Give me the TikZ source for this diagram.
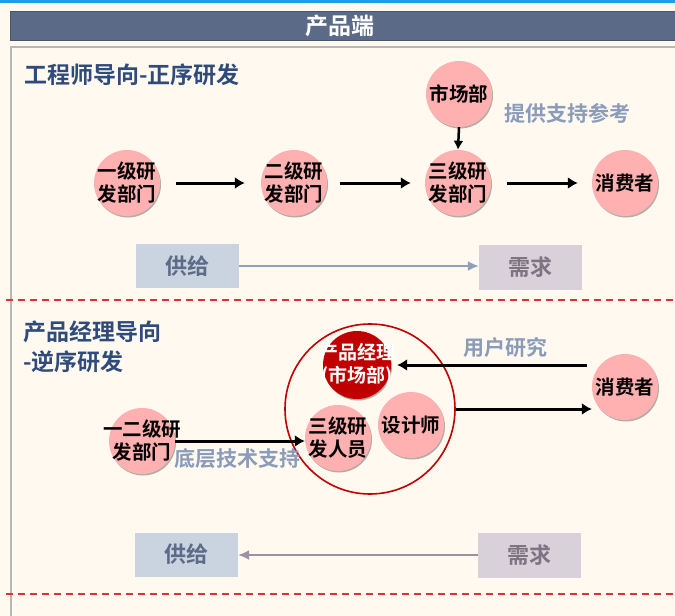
\documentclass[tikz,border=0pt]{standalone}
\usepackage{fontspec}
\setmainfont{Noto Sans CJK SC}[BoldFont={Noto Sans CJK SC Bold}]
\usetikzlibrary{arrows.meta,shadows}
\definecolor{bgc}{HTML}{FFF9EF}
\definecolor{hdr}{HTML}{5B6A87}
\definecolor{pinkc}{HTML}{FFB0B0}
\definecolor{darkred}{HTML}{C00000}
\definecolor{titlec}{HTML}{2F4B7C}
\definecolor{greyb}{HTML}{8A9CBA}
\definecolor{supf}{HTML}{CAD3E0}
\definecolor{supt}{HTML}{5C6B88}
\definecolor{demf}{HTML}{D8D1D9}
\definecolor{demt}{HTML}{7D7382}
\definecolor{supa}{HTML}{8FA1BD}
\definecolor{dema}{HTML}{9C91A3}
\definecolor{dashred}{HTML}{E03030}
\definecolor{topblue}{HTML}{1AA0E0}
\tikzset{
  pc/.style={circle, fill=pinkc, minimum size=66pt, inner sep=0pt,
    drop shadow={shadow xshift=1pt, shadow yshift=-1.5pt, opacity=0.3, fill=black}},
  lbl/.style={align=center, font=\fontsize{19.5}{23}\selectfont\bfseries, text=black, inner sep=0pt},
  wlbl/.style={align=center, font=\fontsize{19}{23}\selectfont\bfseries, text=white, inner sep=0pt},
  arr/.style={line width=3pt, -{Latex[length=10pt,width=12pt]}},
  ttl/.style={anchor=west, font=\fontsize{23}{27}\selectfont\bfseries, text=titlec, inner sep=0pt},
  note/.style={font=\fontsize{21}{25}\selectfont\bfseries, text=greyb, inner sep=0pt},
  supbox/.style={fill=supf, minimum width=103pt, minimum height=44pt, inner sep=0pt,
    font=\fontsize{22}{26}\selectfont\bfseries, text=supt},
  dembox/.style={fill=demf, minimum width=103pt, minimum height=45pt, inner sep=0pt,
    font=\fontsize{22}{26}\selectfont\bfseries, text=demt},
  reddash/.style={draw=dashred, line width=1.8pt, dash pattern=on 7pt off 5pt}
}
\begin{document}
\begin{tikzpicture}[x=1pt,y=-1pt]
\useasboundingbox (0,0) rectangle (675,616);
\fill[bgc] (0,0) rectangle (675,616);
% top blue line
\fill[topblue] (0,0) rectangle (675,3);
% header
\node[fill=hdr, draw=hdr!80!black, line width=0.8pt, minimum width=666pt, minimum height=29pt, inner sep=0pt,
  anchor=north west, font=\fontsize{23}{27}\selectfont\bfseries, text=white] (hd) at (10,10.5) {\hspace*{-6pt}产品端};
% frame
\draw[black!28, line width=1.6pt] (11,616) -- (11,47) -- (675,47);

% ---------- section 1 ----------
\node[ttl] (t1) at (24,75) {工程师导向-正序研发};
\node[pc, label={[lbl]center:市场部}] (sc) at (459,94) {};
\node[note] (n1) at (567,113) {提供支持参考};
\node[pc, label={[lbl]center:一级研\\发部门}] (a1) at (127,183) {};
\node[pc, label={[lbl]center:二级研\\发部门}] (a2) at (294,183) {};
\node[pc, label={[lbl]center:三级研\\发部门}] (a3) at (458,183) {};
\node[pc, label={[lbl]center:消费者}] (a4) at (625,183) {};
\draw[arr] ([xshift=16pt]a1.east) -- ([xshift=-16pt]a2.west);
\draw[arr] ([xshift=13pt]a2.east) -- ([xshift=-14pt]a3.west);
\draw[arr] ([xshift=16pt]a3.east) -- ([xshift=-14pt]a4.west);
\draw[line width=2.5pt, -{Latex[length=9pt,width=10pt]}] (sc.south) -- (a3.north);
\node[supbox] (g1) at (187.5,266) {供给};
\node[dembox] (d1) at (530.5,267.5) {需求};
\draw[supa, line width=1.8pt, -{Latex[length=11pt,width=10pt]}] (g1.east) -- (d1.west |- g1.east);

\draw[reddash] (6,300) -- (675,300);

% ---------- section 2 ----------
\node[ttl] (t2) at (23,332) {产品经理导向};
\node[ttl] (t3) at (23,362) {-逆序研发};
\node[draw=darkred, line width=1.6pt, circle, minimum size=170pt, inner sep=0pt] (big) at (370,409) {};
\node[circle, fill=darkred, minimum width=68pt, inner sep=0pt,
  drop shadow={shadow xshift=1pt, shadow yshift=-1.5pt, opacity=0.3, fill=black},
  label={[wlbl]center:产品经理\\(市场部)}] (pm) at (357,365) {};
\node[pc, label={[lbl]center:三级研\\发人员}] (sj) at (338,438) {};
\node[pc, label={[lbl]center:设计师}] (ds) at (411,425) {};
\node[pc, label={[lbl]center:一二级研\\发部门}] (yy) at (142,441) {};
\node[pc, label={[lbl]center:消费者}] (c2) at (625,387) {};
\draw[arr] ([xshift=-5pt]c2.west |- pm.east) -- ([xshift=6pt]pm.east);
\draw[arr] (big.east) -- (c2.west |- big.east);
\draw[arr] (yy.east) -- (sj.west |- yy.east);
\node[note] (n2) at (505,347) {用户研究};
\node[note] (n3) at (237,459) {底层技术支持};
\node[supbox] (g2) at (186.5,554.5) {供给};
\node[dembox] (d2) at (529.5,555) {需求};
\draw[dema, line width=1.8pt, -{Latex[length=11pt,width=10pt]}] (d2.west) -- (g2.east |- d2.west);

\draw[reddash] (6,594) -- (675,594);
\end{tikzpicture}
\end{document}
